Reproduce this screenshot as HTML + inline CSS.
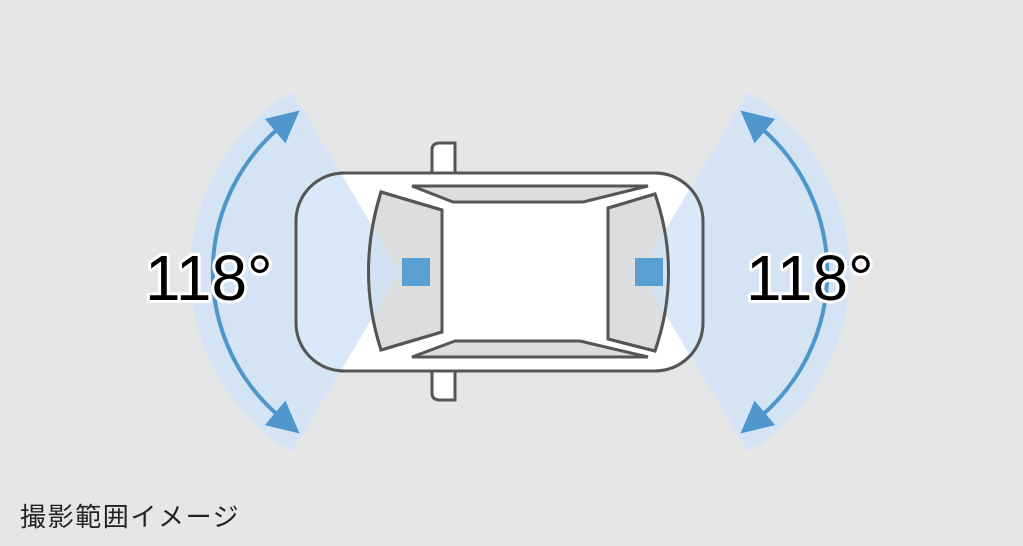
<!DOCTYPE html>
<html><head><meta charset="utf-8"><style>
html,body{margin:0;padding:0;background:#e6e6e6;}
body{width:1023px;height:546px;position:relative;overflow:hidden;}
.cap{position:absolute;left:20px;top:497px;font-family:"Liberation Sans","Noto Sans CJK JP",sans-serif;font-size:26px;letter-spacing:1.6px;color:#222;}
</style></head><body>
<svg width="1023" height="546" viewBox="0 0 1023 546" style="position:absolute;left:0;top:0">
<defs>
<marker id="ah" viewBox="0 0 10 10" refX="2" refY="5" markerWidth="8" markerHeight="8" markerUnits="strokeWidth" orient="auto-start-reverse">
<path d="M0 0 L10 5 L0 10 Z" fill="#4f96cc"/>
</marker>
<g id="fan">
<path d="M400 272 L292 92 A210 210 0 0 0 292 452 Z" fill="rgb(208,227,249)" opacity="0.8"/>
</g>
<g id="arc">
<path d="M280 127 A190 190 0 0 0 280 417" fill="none" stroke="#4f96cc" stroke-width="4" marker-start="url(#ah)" marker-end="url(#ah)"/>
</g>
</defs>
<path d="M432 173 L432 150 Q432 143 440 143 L455 143 L455 173 Z" fill="#fff" stroke="#555" stroke-width="3"/>
<path d="M432 371 L432 393 Q432 400 440 400 L455 400 L455 371 Z" fill="#fff" stroke="#555" stroke-width="3"/>
<rect x="296" y="173" width="407" height="198" rx="48" ry="48" fill="#fff" stroke="#555" stroke-width="3"/>
<polygon points="412,186 648,186 583,202 453,202" fill="#dcdddd" stroke="#555" stroke-width="3"/>
<polygon points="412,357 648,357 580,341 455,341" fill="#dcdddd" stroke="#555" stroke-width="3"/>
<path d="M381 192 L442 210 L442 332 L381 350 Q356 272 381 192 Z" fill="#dcdddd" stroke="#555" stroke-width="3"/>
<path d="M655 194 L608 208 L608 339 L655 351 Q682 272 655 194 Z" fill="#dcdddd" stroke="#555" stroke-width="3"/>
<use href="#fan"/>
<use href="#fan" transform="translate(1040,0) scale(-1,1)"/>
<rect x="296" y="173" width="407" height="198" rx="48" ry="48" fill="none" stroke="#555" stroke-width="3"/>
<path d="M381 192 L442 210 L442 332 L381 350 Q356 272 381 192 Z" fill="none" stroke="#555" stroke-width="3"/>
<path d="M655 194 L608 208 L608 339 L655 351 Q682 272 655 194 Z" fill="none" stroke="#555" stroke-width="3"/>
<rect x="402" y="258" width="28" height="28" fill="#5a9fd2"/>
<rect x="635" y="258" width="28" height="28" fill="#5a9fd2"/>
<use href="#arc"/>
<use href="#arc" transform="translate(1040,0) scale(-1,1)"/>
<g font-family="Liberation Sans, sans-serif" font-size="64" fill="#000" stroke="#fff" stroke-width="6" paint-order="stroke" stroke-linejoin="round">
<text x="145" y="300">118°</text>
<text x="746" y="300">118°</text>
</g>
</svg>
<div class="cap">撮影範囲イメージ</div>
</body></html>
